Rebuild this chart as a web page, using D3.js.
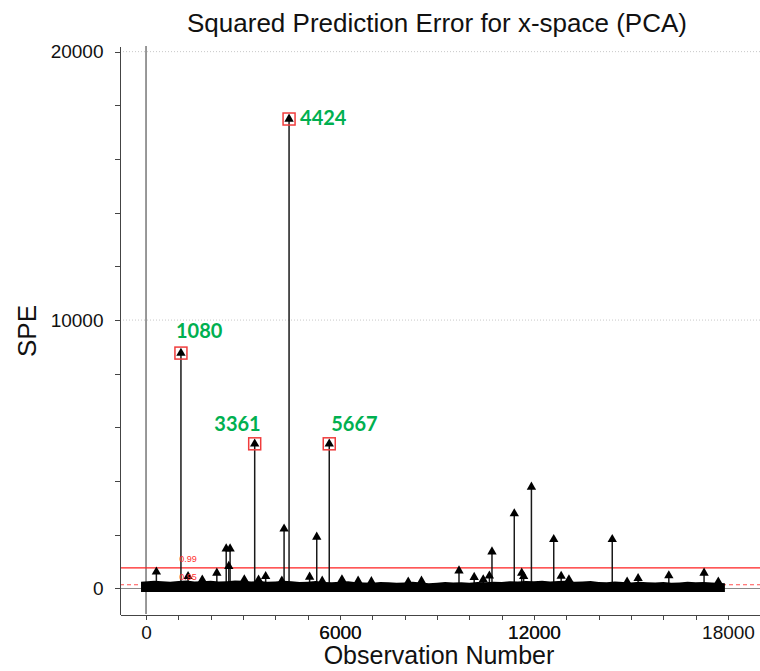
<!DOCTYPE html>
<html>
<head>
<meta charset="utf-8">
<script src="https://d3js.org/d3.v7.min.js"></script>
<style>
	html, body { margin: 0; padding: 0; background: #fff; }
	svg { display: block; font-family: 'Liberation Sans', Arial, sans-serif; }
	.axis path, .axis line { stroke: #444; shape-rendering: crispEdges; }
	.axis text { font-size: 19px; fill: #111; }
	.grid line { stroke: #c8c8c8; stroke-dasharray: 1,2; }
</style>
</head>
<body>
<svg></svg>
<script>
'use strict'

// flagged observations (obs number, SPE)
let flagged = [[1080, 8770], [3361, 5390], [4424, 17490], [5667, 5390]]

// other points sticking out of the dense band
let spikes = [
	[320, 620], [1300, 450], [1740, 320], [2190, 580], [2480, 1480], [2560, 830],
	[2600, 1480], [3040, 330], [3480, 320], [3700, 450], [4200, 280], [4270, 2220],
	[5060, 430], [5280, 1920], [5450, 280], [6060, 330], [6560, 280], [6970, 260],
	[8110, 250], [8520, 280], [9680, 660], [10150, 420], [10430, 330], [10620, 470],
	[10700, 1370], [11390, 2790], [11620, 580], [11680, 450], [11920, 3780],
	[12610, 1830], [12840, 460], [13080, 330], [14420, 1830], [14880, 250],
	[15220, 380], [16170, 480], [17260, 580], [17700, 250] ]

// upper edge of the dense cloud of small SPE values
let bandObs = d3.range(0, 18000, 250).concat([17850]),
	bandTop = [250, 290, 270, 250, 280, 300, 260, 270, 290, 260, 270, 300, 290, 260,
		280, 250, 260, 290, 270, 240, 250, 280, 240, 230, 250, 270, 230, 220, 210, 240,
		230, 210, 220, 250, 220, 200, 210, 240, 220, 230, 210, 240, 230, 250, 240, 270,
		260, 280, 270, 290, 260, 280, 290, 250, 260, 280, 240, 230, 260, 240, 220, 250,
		230, 220, 240, 210, 220, 250, 230, 240, 220, 200],
	bandBottom = -130

let limits = [['0.99', 770, null], ['0.95', 140, '4,3']],
	xMajor = [0, 6000, 12000, 18000], xMinor = d3.range(1000, 18000, 1000),
	yMajor = [0, 10000, 20000], yMinor = d3.range(0, 20001, 2000)

// label placement around each flagged box: [dx, dy, anchor]
let labelPos = {1080: [-5, -15, 'start'], 3361: [6, -13, 'end'],
	4424: [11, 6, 'start'], 5667: [2, -13, 'start']}

let W = 760, H = 671,
	x = d3.scaleLinear().domain([-805, 18990]).range([120, 760]),
	y = d3.scaleLinear().domain([-950, 20210]).range([614, 46]),
	tri = d3.symbol(d3.symbolTriangle, 38)

let svg = d3.select('svg').attr('width', W).attr('height', H)

// grid, zero lines and limits
svg.append('g').attr('class', 'grid')
	.selectAll('line').data(yMajor.filter(v => v > 0)).join('line')
	.attr('x1', x.range()[0]).attr('x2', x.range()[1])
	.attr('y1', d => y(d)).attr('y2', d => y(d))
svg.append('line')
	.attr('x1', x.range()[0] - 5).attr('x2', x.range()[1])
	.attr('y1', y(0)).attr('y2', y(0)).attr('stroke', '#888')
svg.append('line')
	.attr('x1', x(0)).attr('x2', x(0))
	.attr('y1', y.range()[1]).attr('y2', y.range()[0]).attr('stroke', '#333')
svg.append('g').selectAll('line').data(limits).join('line')
	.attr('x1', x.range()[0]).attr('x2', x.range()[1])
	.attr('y1', d => y(d[1])).attr('y2', d => y(d[1]))
	.attr('stroke', d => d[2] ? '#ff5050' : '#ff2020').attr('stroke-width', 1.2)
	.attr('stroke-dasharray', d => d[2])

// stems
let stems = spikes.concat(flagged)
svg.append('g').selectAll('line').data(stems).join('line')
	.attr('x1', d => x(d[0])).attr('x2', d => x(d[0]))
	.attr('y1', y(0)).attr('y2', d => y(d[1]))
	.attr('stroke', '#1a1a1a').attr('stroke-width', 1.5)

// dense band
svg.append('path')
	.datum(d3.zip(bandObs, bandTop))
	.attr('fill', '#000')
	.attr('d', d3.area()
		.x((d, i, a) => x(d[0]) + (i === 0 ? -5 : i === a.length - 1 ? 5 : 0))
		.y0(y(bandBottom)).y1(d => y(d[1])))

// markers
svg.append('g').selectAll('path').data(stems).join('path')
	.attr('transform', d => `translate(${x(d[0])},${y(d[1])})`)
	.attr('d', tri).attr('fill', '#000')

// limit labels
svg.append('g').selectAll('text').data(limits).join('text')
	.attr('x', x(1000) + 1).attr('y', d => y(d[1]) - 6 + (d[2] ? 1 : 0))
	.attr('font-size', 9).attr('fill', '#ff3030').text(d => d[0])

// flagged boxes and labels
svg.append('g').selectAll('rect').data(flagged).join('rect')
	.attr('x', d => x(d[0]) - 6).attr('y', d => y(d[1]) - 6)
	.attr('width', 12).attr('height', 12)
	.attr('fill', 'none').attr('stroke', '#f03c3c').attr('stroke-width', 1.5)
svg.append('g').selectAll('text').data(flagged).join('text')
	.attr('x', d => x(d[0]) + labelPos[d[0]][0])
	.attr('y', d => y(d[1]) + labelPos[d[0]][1])
	.attr('text-anchor', d => labelPos[d[0]][2])
	.attr('font-family', 'Lato, sans-serif').attr('font-weight', 700)
	.attr('font-size', 20).attr('fill', '#00b050')
	.text(d => d[0])

// axes
svg.append('g').attr('class', 'axis')
	.attr('transform', `translate(${x.range()[0] - 0.5},0)`)
	.call(d3.axisLeft(y).tickValues(yMinor).tickSize(5).tickSizeOuter(0)
		.tickPadding(11).tickFormat(d => yMajor.includes(d) ? d : ''))
svg.append('g').attr('class', 'axis')
	.attr('transform', `translate(0,${y.range()[0] + 0.5})`)
	.call(d3.axisBottom(x).tickValues(xMajor.concat(xMinor)).tickSize(5).tickSizeOuter(0)
		.tickPadding(6).tickFormat(d => xMajor.includes(d) ? d : ''))

// titles
svg.append('text').attr('x', 437).attr('y', 32).attr('text-anchor', 'middle')
	.attr('font-size', 26).attr('fill', '#111')
	.text('Squared Prediction Error for x-space (PCA)')
svg.append('text').attr('x', 439).attr('y', 664).attr('text-anchor', 'middle')
	.attr('font-size', 25).attr('fill', '#111').text('Observation Number')
svg.append('text').attr('transform', 'translate(36,331) rotate(-90)')
	.attr('text-anchor', 'middle').attr('font-size', 26).attr('fill', '#111').text('SPE')
</script>
</body>
</html>
